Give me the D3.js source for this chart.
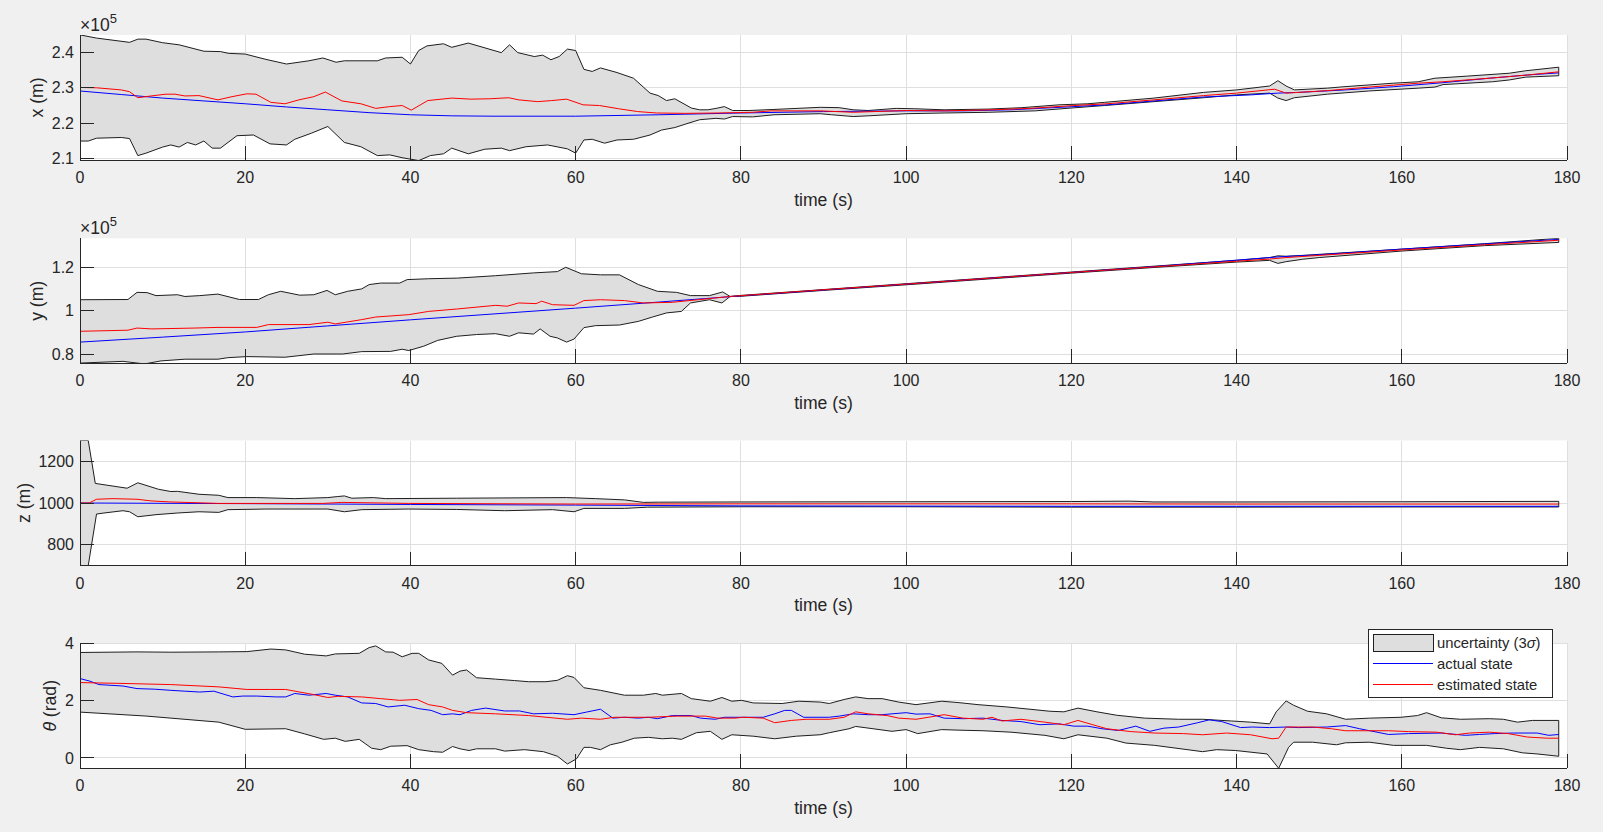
<!DOCTYPE html>
<html>
<head>
<meta charset="utf-8">
<script src="https://cdn.jsdelivr.net/npm/d3@7"></script>
<style>
html,body{margin:0;padding:0;background:#f0f0f0;overflow:hidden}
svg{display:block}
</style>
</head>
<body>
<svg id="chart" width="1603" height="832"></svg>
<script>
// ---------------- data ----------------
const timeTicks = [0, 20, 40, 60, 80, 100, 120, 140, 160, 180];
const xTicks = [210000, 220000, 230000, 240000];
const yTicks = [80000, 100000, 120000];
const zTicks = [800, 1000, 1200];
const thetaTicks = [0, 2, 4];
const legendLabels = ["uncertainty (3", "actual state", "estimated state"];

// x (m)
const xUpper = [[0,244900],[2,244000],[6,242800],[7,243700],[8,243700],[10,242700],[12,242100],[15,240300],[17,240200],[18,239700],[20,239500],[22.5,238000],[25,236700],[27.7,237600],[29.4,238400],[31,237200],[32,237600],[36,237600],[37,238400],[39,238600],[40,236700],[41,240500],[42,241800],[44,242400],[45,241400],[47,242600],[51,239900],[52,242100],[53,239900],[55,238800],[56,239200],[57,237900],[58,238800],[59,240900],[60,240500],[61,235200],[62,234600],[63,235600],[65,234300],[67,232700],[69,228500],[70,227800],[71,226400],[72,226900],[74,224300],[75,223800],[76,223800],[77,224200],[78,224700],[79,223600],[81,223600],[84,223900],[89.6,224500],[91.9,224400],[93.6,223800],[95.4,223600],[98.8,224200],[101,224100],[104.6,223800],[110,224000],[114,224400],[118.5,225200],[122,225500],[124,225900],[130,227100],[136,228700],[140,229400],[144,230500],[145,232000],[146,230500],[147,229400],[151,229900],[153,230300],[159,231300],[162,231700],[164,232700],[168,233300],[173,234100],[175,234800],[179,235800]];
const xLower = [[0,215000],[1,215000],[2,215800],[5,216000],[6,215700],[7,210900],[8,211600],[10,213300],[11,213900],[12,213300],[13,214600],[14,213900],[15,215000],[16,213000],[17,213000],[19,216500],[21,216700],[23,214200],[25,213900],[26,215500],[28,217200],[30,219100],[32,214600],[34,213400],[36,210900],[37.5,211100],[39,210300],[41,209500],[42.4,210900],[44,211400],[45,213000],[47,211400],[49,212700],[51,213000],[52,212300],[54,213400],[56.6,213900],[59,212800],[60,211600],[61,215300],[62,215500],[63.5,214400],[65,215300],[67,215500],[69,216700],[70.4,218100],[72,218800],[73.6,220000],[75,221000],[77,221400],[78,221200],[79,221900],[81.4,221800],[84,222400],[89.6,222700],[91,222400],[93.6,221900],[95.4,222100],[100,222700],[104.6,222900],[110,223100],[115.6,223500],[120,224300],[124,225000],[130,226100],[136,227200],[140,228000],[144,228500],[145,227100],[146,226400],[147,227200],[151,228200],[156,229100],[162,229900],[164,230200],[165,230900],[171,231700],[173,232200],[175,233000],[179,233400]];
const xEstimate = [[0,230100],[2,230000],[5,229400],[6,228900],[7,227200],[8.6,227700],[10.4,228200],[11.5,228200],[12.7,227700],[14.4,227800],[16.7,226600],[18.4,227500],[20.2,228300],[21.3,228200],[23.1,225900],[24.8,225500],[26.5,226600],[28.3,227500],[29.7,228800],[31.7,226300],[34,225500],[35.8,224200],[37.5,224700],[39,225000],[40.1,223700],[42.1,226400],[45,227100],[47.3,226800],[49.6,226900],[51.9,227200],[53.1,226600],[55.4,226100],[57.1,226400],[58.9,226800],[60.9,225200],[62.9,225000],[65.2,224100],[67.5,223300],[69.8,222900],[73.3,222800],[77.3,222900],[81.4,223100],[83.7,223500],[89.6,223500],[93.6,223100],[100,223600],[104.6,223500],[110.4,223800],[115,224200],[120.3,225000],[124.3,225500],[130,226600],[136,227800],[140,228500],[144.6,229600],[146,228500],[151,229200],[156,230200],[162,231300],[165,231700],[170.6,232700],[175.2,233600],[179,234500]];
const xActual = [[0,229100],[5,228100],[10,227100],[15,226300],[20,225500],[25,224600],[30,223800],[35,223000],[40,222400],[45,222100],[50,222000],[60,222000],[70,222400],[80,222900],[90,223300],[100,223500],[106.9,223500],[112.7,223800],[120.3,224700],[124.3,225200],[130,226300],[136,227400],[141.7,228000],[145,228500],[147.5,228700],[153.2,229400],[159,230300],[164.8,231400],[170.6,232700],[175.2,233600],[179,234200]];

// y (m)
const yUpper = [[0,105100],[5.8,105200],[6.9,108500],[8.1,108400],[9.2,107000],[11.8,107400],[12.7,106600],[14.5,107000],[16.7,107700],[19.3,105200],[21.6,105200],[22.8,107400],[24.3,109000],[26.6,107200],[28.3,107400],[29.9,109400],[30.9,107400],[32.4,109000],[34.1,110100],[35,112100],[36.4,112800],[38.7,112800],[39.6,114400],[42.2,114800],[45.7,115100],[50.3,116200],[54.9,117500],[57.8,118100],[58.8,120100],[60.7,117100],[63,116600],[65.3,116600],[67.6,112100],[69.9,109000],[72.2,108500],[73.9,107000],[76.2,107000],[77.8,108700],[78.7,106600],[80,107100],[90,109800],[100,112500],[110,115200],[120,117900],[130,120600],[140,123300],[144,124600],[145,125400],[146,125200],[148,125600],[160,128500],[170,131000],[179,133500]];
const yLower = [[0,75800],[5.2,76600],[7.8,75400],[9.8,76800],[12.7,77600],[16.7,77600],[17.9,78300],[20.2,78800],[24.8,78500],[28.3,80000],[31.8,80000],[34.1,81100],[37.6,81200],[39,82200],[39.8,81600],[41.6,83600],[43.3,86300],[45.6,88200],[48,89000],[50.3,89400],[52,88200],[53.1,89800],[54.9,89200],[55.7,91600],[56.9,88200],[57.8,87400],[58.9,85500],[59.8,86900],[61,92200],[62.4,93100],[65.3,93400],[67.6,95100],[69.3,97100],[71,99000],[72.8,99700],[73.9,103600],[76.2,105100],[77.7,103600],[78.7,106600],[80,106700],[90,109400],[100,112000],[110,114700],[120,117400],[130,120000],[140,122500],[144,123300],[145,121900],[146,122700],[148,123800],[150,124600],[160,127600],[170,130100],[179,131600]];
const yEstimate = [[0,90500],[5.8,91000],[6.9,92000],[8.7,91600],[13.9,92000],[16.7,92300],[21.4,92300],[22.8,93600],[27.7,93600],[30,94700],[30.9,93900],[34.1,95900],[35.8,97100],[39.8,98200],[42.2,99700],[45.6,100800],[50.3,102500],[51.7,102100],[53.1,103600],[55.2,103300],[55.9,104400],[57.2,102800],[59.8,102500],[61,104700],[63,105100],[65.9,104700],[68.2,103600],[71.7,103900],[78.7,106600],[90,109700],[100,112300],[110,115000],[120,117700],[130,120300],[140,122900],[144,123900],[146,124600],[150,125600],[160,128100],[170,130500],[179,132600]];
const yActual = [[0,85500],[10,87800],[20,90200],[30,93000],[40,95800],[50,98500],[60,101200],[70,104000],[79,106600],[90,109600],[100,112300],[110,115000],[120,117700],[130,120400],[140,123400],[145,124900],[150,125900],[160,128500],[170,130900],[179,133000]];

// z (m)
const zUpper = [[0,1300],[1,1300],[1.85,1094],[5.7,1071],[7,1097],[9.5,1066],[11,1055],[11.8,1056],[14.4,1042],[16.8,1037],[17.9,1026],[21.4,1026],[26,1021],[30,1026],[31.2,1031],[32,1034],[32.9,1023],[35.5,1026],[37,1021],[45.6,1023],[58.9,1026],[62.4,1021],[65.9,1015],[68.2,1003],[70,1004],[80,1005],[100,1006],[120,1007],[127,1009],[130,1005],[140,1005],[160,1006],[179,1008]];
const zLower = [[0,700],[1,700],[2,947],[2.9,952],[5.2,963],[6,958],[7,934],[9.2,944],[11.8,952],[14.4,958],[16.8,955],[17.9,968],[22.5,971],[30,971],[32,958],[34.1,968],[39.8,971],[45.6,969],[51.4,963],[57.2,968],[59.8,958],[61,974],[65.9,974],[68.7,980],[80,982],[100,982],[120,980],[140,980],[160,981],[179,981]];
const zEstimate = [[0,1000],[1.1,1000],[2,1018],[4,1021],[6.9,1018],[8.6,1010],[11,1005],[16.8,998],[22.5,998],[29.4,998],[31.7,1003],[39.8,998],[60,995],[80,996],[100,996],[120,996],[140,995],[160,995],[179,995]];
const zActual = [[0,1000],[20,997],[40,993],[60,990],[80,986],[100,985],[120,984],[140,984],[160,984],[179,984]];

// theta (rad)
const thetaUpper = [[0,3.68],[6.9,3.70],[11,3.69],[16.8,3.70],[20.2,3.71],[23.1,3.80],[24.9,3.77],[27.2,3.62],[29.8,3.56],[30.9,3.63],[33.8,3.65],[35,3.85],[35.8,3.91],[37,3.70],[37.9,3.69],[39,3.53],[40.2,3.65],[41,3.65],[42.2,3.42],[43.8,3.30],[45.1,2.89],[46,3.03],[46.8,3.07],[48,2.80],[50.3,2.75],[52.6,2.70],[54.3,2.66],[56.4,2.66],[57.8,2.71],[59,2.87],[59.8,2.81],[61,2.45],[63,2.36],[65.9,2.19],[68.2,2.19],[69.7,2.25],[70.5,2.19],[72.8,2.25],[74,2.07],[76.3,1.98],[77.7,2.11],[78.9,1.98],[80.1,2.01],[81.5,1.92],[85,1.90],[87,1.98],[89.6,1.95],[90.7,1.90],[92.5,2.04],[93.9,2.13],[95.4,2.07],[97.1,2.07],[99.1,1.95],[101.2,1.86],[104.3,1.98],[106.4,1.93],[108.7,1.86],[112.2,1.78],[115,1.70],[117.4,1.63],[119.1,1.61],[120.8,1.74],[123.1,1.61],[125.5,1.49],[128.9,1.39],[133,1.35],[135.9,1.35],[139.4,1.29],[141.7,1.25],[144,1.19],[144.8,1.61],[146,1.99],[146.9,1.84],[148.6,1.63],[150.9,1.54],[153.2,1.35],[156.1,1.39],[159.9,1.42],[161.9,1.48],[163,1.58],[164.8,1.40],[167.1,1.35],[170.6,1.37],[172.3,1.35],[174,1.25],[175.8,1.31],[179,1.31]];
const thetaLower = [[0,1.60],[8.1,1.46],[11,1.39],[16.8,1.25],[20,1.00],[24.9,1.02],[27.2,0.84],[29.5,0.65],[30.9,0.69],[32.1,0.58],[33.8,0.65],[35.3,0.34],[36.4,0.29],[37.6,0.41],[39.6,0.43],[41,0.29],[42.8,0.22],[43.9,0.20],[45.1,0.40],[46,0.32],[47.1,0.26],[48,0.32],[50.3,0.32],[51.4,0.24],[53.8,0.29],[56.1,0.22],[57.8,0.06],[59,-0.21],[60.1,-0.03],[61,0.37],[61.8,0.37],[63,0.29],[64.2,0.46],[65.6,0.55],[67.1,0.69],[68.8,0.72],[70.5,0.67],[71.7,0.69],[72.8,0.65],[74.6,0.88],[76.3,0.93],[77.7,0.65],[78.9,0.81],[81.5,0.76],[84.1,0.67],[86.7,0.76],[89.6,0.81],[90.7,0.88],[93.1,1.02],[93.9,1.10],[96,1.02],[98.3,0.93],[100,0.99],[101.4,0.85],[104.3,0.99],[106.4,0.97],[109.3,0.95],[112.7,0.90],[116.8,0.79],[119.1,0.67],[120.8,0.81],[124.3,0.69],[126.6,0.52],[130.1,0.44],[135.9,0.22],[137.6,0.29],[139.9,0.26],[143.7,0.14],[145.1,-0.36],[146.3,0.37],[146.9,0.55],[149.2,0.55],[152.1,0.46],[153.2,0.53],[156.1,0.55],[159,0.44],[163,0.44],[165.4,0.34],[167.1,0.29],[169.4,0.37],[172.3,0.32],[174.6,0.18],[176.4,0.14],[179,0.06]];
const thetaActual = [[0,2.77],[1.2,2.68],[2.3,2.56],[5.2,2.51],[6.9,2.42],[9,2.40],[11,2.36],[12.7,2.33],[14.5,2.30],[16.2,2.33],[18.5,2.13],[19.7,2.16],[21.4,2.16],[23.7,2.13],[24.9,2.13],[26,2.25],[27.7,2.19],[29.8,2.25],[30.9,2.19],[32.4,2.13],[34.1,1.92],[35.8,1.90],[37.3,1.78],[39.3,1.84],[41,1.72],[42.5,1.66],[43.9,1.51],[45.1,1.54],[46,1.51],[47.4,1.66],[49.1,1.74],[51.4,1.64],[53.2,1.64],[54.9,1.54],[57.2,1.56],[59.8,1.51],[61.3,1.60],[63,1.70],[64.5,1.39],[65.9,1.42],[67.6,1.39],[68.8,1.42],[69.9,1.37],[71.7,1.48],[74,1.48],[75.1,1.39],[76.9,1.35],[78,1.42],[80.3,1.42],[82.7,1.42],[84.1,1.54],[85.3,1.66],[86.1,1.66],[87.6,1.42],[90.7,1.42],[91.9,1.46],[93.6,1.54],[95.4,1.51],[97.1,1.51],[98.3,1.54],[100,1.58],[101.2,1.53],[102.9,1.54],[104.6,1.39],[106.9,1.37],[109.3,1.39],[111.6,1.31],[113.9,1.27],[116.2,1.16],[118.5,1.19],[120.3,1.11],[122,1.11],[123.7,1.02],[125.7,0.96],[127.8,1.11],[129.5,0.93],[131.2,1.04],[133,1.08],[135.3,1.23],[136.7,1.33],[138.2,1.27],[140.5,1.06],[141.9,1.08],[144,1.06],[146,1.08],[147.5,1.06],[150.9,1.08],[153.2,1.13],[154.9,1.02],[158.4,0.82],[160.8,0.85],[164.8,0.87],[167.7,0.79],[169.4,0.82],[171.2,0.85],[173.5,0.87],[176.4,0.87],[177.8,0.79],[179,0.82]];
const thetaEstimate = [[0,2.63],[5.2,2.60],[11,2.56],[16.8,2.48],[20.2,2.39],[23.1,2.39],[24.9,2.39],[28.3,2.21],[30,2.11],[31.2,2.15],[34.1,2.13],[36.4,2.07],[38.7,2.01],[40.8,2.04],[42.2,1.86],[43.9,1.78],[45.1,1.66],[46.8,1.58],[50.3,1.54],[54.3,1.48],[59,1.35],[60.7,1.39],[63,1.35],[64.7,1.42],[68.8,1.42],[72.3,1.46],[75.7,1.46],[77.2,1.39],[79.3,1.39],[80.3,1.42],[82.7,1.39],[84.1,1.23],[86.1,1.31],[87.9,1.35],[90.7,1.35],[92.5,1.42],[93.9,1.61],[95.4,1.54],[97.7,1.48],[99.1,1.39],[101.2,1.35],[104.6,1.51],[106.9,1.39],[109.3,1.35],[110.4,1.42],[111.6,1.29],[113.9,1.35],[116.8,1.25],[119.1,1.16],[120.8,1.31],[122.6,1.16],[124.3,1.02],[127.2,0.92],[130.1,0.87],[133.6,0.85],[135.9,0.81],[138.8,0.87],[141.7,0.81],[144.3,0.67],[145.1,0.69],[146,1.08],[149.2,1.08],[151.5,1.02],[153.2,0.95],[155.6,0.95],[158.4,0.95],[160.8,0.92],[164.2,0.90],[166.5,0.81],[168.2,0.87],[170.6,0.90],[172.9,0.85],[175.2,0.73],[177.6,0.69],[179,0.69]];

// ---------------- layout / drawing ----------------
const FONT = '"Liberation Sans", Arial, Helvetica, sans-serif';
const AX = "#262626";
const left = 80, width = 1487, height = 125;

const panels = [
  {top: 35,    upper: xUpper, lower: xLower, actual: xActual, est: xEstimate,
   domain: [209660, 244870], ticks: xTicks, fmt: d => d3.format("~g")(d / 1e5),
   label: [["x", false], [" (m)", false]], labelX: 42.5, exponent: true},
  {top: 238.3, upper: yUpper, lower: yLower, actual: yActual, est: yEstimate,
   domain: [75700, 133500], ticks: yTicks, fmt: d => d3.format("~g")(d / 1e5),
   label: [["y", false], [" (m)", false]], labelX: 42.5, exponent: true},
  {top: 440.5, upper: zUpper, lower: zLower, actual: zActual, est: zEstimate,
   domain: [700, 1300], ticks: zTicks, fmt: d => String(d),
   label: [["z", false], [" (m)", false]], labelX: 30, exponent: false},
  {top: 643.3, upper: thetaUpper, lower: thetaLower, actual: thetaActual, est: thetaEstimate,
   domain: [-0.36, 4.0], ticks: thetaTicks, fmt: d => String(d),
   label: [["\u03b8", true], [" (rad)", false]], labelX: 56, exponent: false}
];

const svg = d3.select("#chart");
svg.append("rect").attr("width", 1603).attr("height", 832).attr("fill", "#f0f0f0");

const xs = d3.scaleLinear().domain([0, 180]).range([0, width]);

panels.forEach((p, i) => {
  const ys = d3.scaleLinear().domain(p.domain).range([height, 0]);
  const g = svg.append("g").attr("transform", `translate(${left},${p.top})`);
  g.append("rect").attr("width", width).attr("height", height).attr("fill", "#fff");

  // grid
  const grid = g.append("g").attr("stroke", "#dfdfdf").attr("stroke-width", 1).attr("shape-rendering", "crispEdges");
  timeTicks.forEach(t => grid.append("line").attr("x1", xs(t)).attr("x2", xs(t)).attr("y1", 0).attr("y2", height));
  p.ticks.forEach(v => grid.append("line").attr("x1", 0).attr("x2", width).attr("y1", ys(v)).attr("y2", ys(v)));

  const clipId = "clip" + i;
  g.append("clipPath").attr("id", clipId).append("rect").attr("x", 0).attr("y", 0).attr("width", width + 1).attr("height", height);
  const data = g.append("g").attr("clip-path", `url(#${clipId})`);

  const line = d3.line().x(d => xs(d[0])).y(d => ys(d[1]));
  const poly = p.upper.concat(p.lower.slice().reverse());
  data.append("path").attr("d", line(poly) + "Z")
    .attr("fill", "#dedede").attr("stroke", "#1e1e1e").attr("stroke-width", 1).attr("stroke-linejoin", "round");
  data.append("path").attr("d", line(p.actual)).attr("fill", "none").attr("stroke", "#0000ff").attr("stroke-width", 1);
  data.append("path").attr("d", line(p.est)).attr("fill", "none").attr("stroke", "#ff0000").attr("stroke-width", 1);

  // axes
  const ax = g.append("g").attr("stroke", AX).attr("stroke-width", 1).attr("shape-rendering", "crispEdges");
  ax.append("line").attr("x1", 0).attr("x2", width).attr("y1", height).attr("y2", height);
  ax.append("line").attr("x1", 0).attr("x2", 0).attr("y1", 0).attr("y2", height);
  timeTicks.forEach(t => ax.append("line").attr("x1", xs(t)).attr("x2", xs(t)).attr("y1", height).attr("y2", height - 14));
  p.ticks.forEach(v => ax.append("line").attr("x1", 0).attr("x2", 14).attr("y1", ys(v)).attr("y2", ys(v)));

  const txt = g.append("g").attr("font-family", FONT).attr("fill", AX);
  timeTicks.forEach(t => txt.append("text").attr("x", xs(t)).attr("y", height + 23)
    .attr("text-anchor", "middle").attr("font-size", 16).text(t));
  p.ticks.forEach(v => txt.append("text").attr("x", -6).attr("y", ys(v) + 5.6)
    .attr("text-anchor", "end").attr("font-size", 16).text(p.fmt(v)));

  txt.append("text").attr("x", width / 2).attr("y", height + 45.5)
    .attr("text-anchor", "middle").attr("font-size", 17.6).text("time (s)");

  const yl = txt.append("text").attr("font-size", 17.6).attr("text-anchor", "middle")
    .attr("transform", `translate(${p.labelX - left},${height / 2}) rotate(-90)`);
  p.label.forEach(([s, it]) => yl.append("tspan").attr("font-style", it ? "italic" : "normal").text(s));

  if (p.exponent) {
    const ex = txt.append("text").attr("x", 0).attr("y", -4.3).attr("font-size", 17.5);
    ex.append("tspan").text("\u00d710");
    ex.append("tspan").attr("font-size", 13).attr("dy", -8).text("5");
  }

  // legend on last panel
  if (i === panels.length - 1) {
    const lg = svg.append("g").attr("font-family", FONT).attr("fill", AX);
    lg.append("rect").attr("x", 1368.5).attr("y", 629.5).attr("width", 184).attr("height", 68)
      .attr("fill", "#fff").attr("stroke", AX).attr("stroke-width", 1);
    lg.append("rect").attr("x", 1373.5).attr("y", 634.5).attr("width", 60).attr("height", 17)
      .attr("fill", "#dedede").attr("stroke", "#1e1e1e").attr("stroke-width", 1);
    lg.append("line").attr("x1", 1373).attr("x2", 1433).attr("y1", 663.5).attr("y2", 663.5)
      .attr("stroke", "#0000ff").attr("stroke-width", 1);
    lg.append("line").attr("x1", 1373).attr("x2", 1433).attr("y1", 684.5).attr("y2", 684.5)
      .attr("stroke", "#ff0000").attr("stroke-width", 1);
    const t0 = lg.append("text").attr("x", 1437).attr("y", 648.3).attr("font-size", 14.8);
    t0.append("tspan").text(legendLabels[0]);
    t0.append("tspan").attr("font-style", "italic").text("\u03c3");
    t0.append("tspan").text(")");
    lg.append("text").attr("x", 1437).attr("y", 668.5).attr("font-size", 14.8).text(legendLabels[1]);
    lg.append("text").attr("x", 1437).attr("y", 689.5).attr("font-size", 14.8).text(legendLabels[2]);
  }
});
</script>
</body>
</html>
